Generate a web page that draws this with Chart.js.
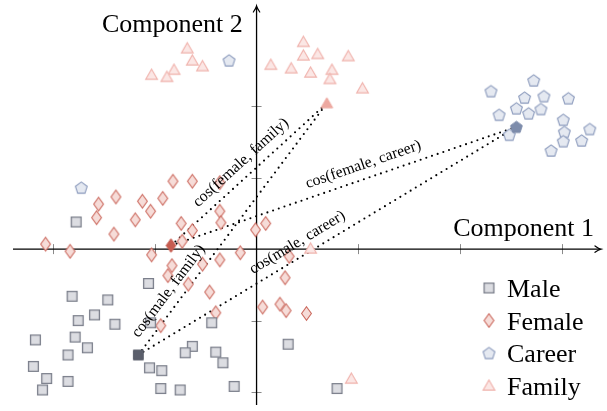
<!DOCTYPE html>
<html><head><meta charset="utf-8">
<script src="https://cdn.jsdelivr.net/npm/chart.js@4.4.0/dist/chart.umd.min.js"></script>
<style>html,body{margin:0;padding:0;background:#fff;}#wrap{width:607px;height:411px;}</style>
</head><body><div id="wrap"><canvas id="c" width="607" height="411"></canvas></div>
<script>
// ---- data (axis units: one tick = 1) ----
const seriesNames = ['Male', 'Female', 'Career', 'Family'];
const maleX = [-1.77,-1.06,-1.81,-1.46,-1.59,-1.75,-1.39,-1.04,-0.44,-2.17,-1.78,-1.66,-1.85,-0.63,-0.70,-0.40,-0.33,-2.19,-1.05,-0.93,-2.06,-1.85,-2.10,-0.94,-0.75,-0.22,0.31,0.79];
const maleY = [0.38,-0.48,-0.66,-0.71,-0.92,-1.00,-1.05,-1.03,-1.03,-1.27,-1.23,-1.38,-1.48,-1.36,-1.45,-1.44,-1.59,-1.64,-1.66,-1.70,-1.81,-1.85,-1.97,-1.95,-1.97,-1.92,-1.33,-1.95];
const femaleX = [-0.82,-0.63,-0.36,-1.38,-1.55,-1.12,-0.92,-1.04,-1.57,-1.19,-0.74,-1.40,-0.63,-0.73,-2.07,-1.83,-1.03,-0.36,-0.35,0.09,-0.01,-0.16,-0.36,-0.53,0.32,0.28,-0.83,-0.87,-0.67,-0.46,-0.40,0.06,0.23,0.29,0.49,-0.94];
const femaleY = [0.95,0.95,0.93,0.73,0.63,0.67,0.71,0.53,0.44,0.41,0.36,0.21,0.26,0.11,0.07,-0.03,-0.08,0.53,0.37,0.36,0.27,-0.05,-0.15,-0.21,-0.10,-0.40,-0.23,-0.37,-0.49,-0.60,-0.89,-0.81,-0.77,-0.86,-0.90,-1.07];
const careerX = [2.72,2.30,2.63,2.82,3.06,2.55,2.67,2.79,2.38,3.01,3.02,3.27,3.01,3.19,2.89,2.48,-0.27,-1.72];
const careerY = [2.36,2.21,2.12,2.14,2.11,1.97,1.90,1.96,1.88,1.81,1.64,1.68,1.51,1.52,1.38,1.60,2.64,0.86];
const familyX = [-0.68,-0.63,-0.53,-0.81,-1.03,-0.88,0.14,0.34,0.46,0.46,0.60,0.90,0.53,0.74,0.72,1.04,0.53,0.93];
const familyY = [2.81,2.64,2.56,2.51,2.44,2.41,2.58,2.53,2.90,2.71,2.73,2.70,2.47,2.51,2.38,2.25,0.01,-1.81];
// centroids in order Male, Female, Career, Family
const centroidX = [-1.16,-0.84,2.55,0.69];
const centroidY = [-1.48,0.05,1.71,2.04];
const simLabels = ['cos(female, family)','cos(female, career)','cos(male, family)','cos(male, career)'];
const simFrom = [1,1,0,0];
const simTo = [3,2,3,2];
const xTicks = [-2,-1,1,2,3];
const yTicks = [-2,-1,1,2];
const axisTitles = ['Component 1','Component 2'];

// ---- marker images ----
function makeMarker(shape, fill, stroke, lw) {
  const S = 17, m = S / 2;
  const c = document.createElement('canvas'); c.width = S; c.height = S;
  const g = c.getContext('2d');
  g.beginPath();
  if (shape === 'square') { g.rect(m - 4.9, m - 4.9, 9.8, 9.8); }
  else if (shape === 'diamond') { g.moveTo(m, m - 6.8); g.lineTo(m + 4.9, m); g.lineTo(m, m + 6.8); g.lineTo(m - 4.9, m); g.closePath(); }
  else if (shape === 'pentagon') { const r = 6.2; for (let i = 0; i < 5; i++) { const a = (-90 + 72 * i) * Math.PI / 180; const px = m + r * Math.cos(a), py = m + 0.6 + r * Math.sin(a); i ? g.lineTo(px, py) : g.moveTo(px, py); } g.closePath(); }
  else if (shape === 'triangle') { const r = 6.8; for (let i = 0; i < 3; i++) { const a = (-90 + 120 * i) * Math.PI / 180; const px = m + r * Math.cos(a), py = m + 1.2 + r * Math.sin(a); i ? g.lineTo(px, py) : g.moveTo(px, py); } g.closePath(); }
  g.fillStyle = fill; g.fill();
  if (stroke) { g.lineWidth = lw; g.strokeStyle = stroke; g.lineJoin = 'miter'; g.stroke(); }
  return c;
}
const markers = [
  makeMarker('square', '#dcdde2', '#7b7f8b', 1.3),
  makeMarker('diamond', '#f6dcd8', '#cc6a5f', 1.1),
  makeMarker('pentagon', '#e5e9f1', '#8c9bbd', 1.1),
  makeMarker('triangle', '#fbe7e5', '#f0b2ac', 1.1)
];
const centroidMarkers = [
  makeMarker('square', '#5b5f6c', '#5b5f6c', 1),
  makeMarker('diamond', '#c65c50', '#c65c50', 1),
  makeMarker('pentagon', '#7d8cab', '#7d8cab', 1),
  makeMarker('triangle', '#eda9a1', '#eda9a1', 1)
];

const xs = [maleX, femaleX, careerX, familyX];
const ys = [maleY, femaleY, careerY, familyY];
const datasets = [];
for (let s = 0; s < 4; s++) {
  datasets.push({
    label: seriesNames[s],
    data: xs[s].map((v, i) => ({ x: v, y: ys[s][i] })),
    pointStyle: markers[s], pointRadius: 5, pointHoverRadius: 5, order: 2
  });
}
for (let k = 0; k < simLabels.length; k++) {
  datasets.push({
    label: simLabels[k],
    data: [{ x: centroidX[simFrom[k]], y: centroidY[simFrom[k]] }, { x: centroidX[simTo[k]], y: centroidY[simTo[k]] }],
    showLine: true, borderColor: '#000', borderWidth: 2.1, borderDash: [0, 6], borderCapStyle: 'round',
    pointRadius: 0, pointHoverRadius: 0, order: 5
  });
}
datasets.push({
  label: 'centroids',
  data: centroidX.map((v, i) => ({ x: v, y: centroidY[i] })),
  pointStyle: (ctx) => centroidMarkers[ctx.dataIndex], pointRadius: 5, order: 0
});

const SERIF = '"Liberation Serif", "DejaVu Serif", serif';

const axesPlugin = {
  id: 'axesPlugin',
  beforeDatasetsDraw(chart) {
    const { ctx, scales: { x, y }, chartArea: a } = chart;
    const ox = x.getPixelForValue(0), oy = y.getPixelForValue(0);
    ctx.save();
    ctx.strokeStyle = '#8a8a8a'; ctx.lineWidth = 1;
    xTicks.forEach(t => { const px = Math.round(x.getPixelForValue(t)) + 0.5; ctx.beginPath(); ctx.moveTo(px, oy - 5); ctx.lineTo(px, oy + 5); ctx.stroke(); });
    yTicks.forEach(t => { const py = Math.round(y.getPixelForValue(t)) + 0.5; ctx.beginPath(); ctx.moveTo(ox - 5, py); ctx.lineTo(ox + 5, py); ctx.stroke(); });
    ctx.strokeStyle = '#000'; ctx.lineWidth = 1.3;
    ctx.beginPath(); ctx.moveTo(a.left, oy); ctx.lineTo(a.right - 1, oy); ctx.stroke();
    ctx.beginPath(); ctx.moveTo(ox, a.bottom); ctx.lineTo(ox, a.top + 1); ctx.stroke();
    ctx.lineWidth = 1.2; ctx.lineCap = 'round';
    ctx.beginPath(); ctx.moveTo(a.right - 6, oy - 3.2); ctx.quadraticCurveTo(a.right - 2.5, oy - 0.6, a.right, oy); ctx.quadraticCurveTo(a.right - 2.5, oy + 0.6, a.right - 6, oy + 3.2); ctx.stroke();
    ctx.beginPath(); ctx.moveTo(ox - 3.2, a.top + 6); ctx.quadraticCurveTo(ox - 0.6, a.top + 2.5, ox, a.top); ctx.quadraticCurveTo(ox + 0.6, a.top + 2.5, ox + 3.2, a.top + 6); ctx.stroke();
    ctx.restore();
  },
  afterDatasetsDraw(chart) {
    const { ctx, scales: { x, y } } = chart;
    ctx.save();
    ctx.fillStyle = '#000';
    ctx.font = '26px ' + SERIF;
    ctx.textBaseline = 'alphabetic';
    ctx.textAlign = 'right'; ctx.fillText(axisTitles[0], 594, 236);
    ctx.textAlign = 'left'; ctx.fillText(axisTitles[1], 102, 32);
    const tPos = [0.51, 0.57, 0.22, 0.44];
    ctx.font = '15.8px ' + SERIF; ctx.textAlign = 'center'; ctx.textBaseline = 'middle';
    for (let k = 0; k < simLabels.length; k++) {
      const x1 = x.getPixelForValue(centroidX[simFrom[k]]), y1 = y.getPixelForValue(centroidY[simFrom[k]]);
      const x2 = x.getPixelForValue(centroidX[simTo[k]]), y2 = y.getPixelForValue(centroidY[simTo[k]]);
      const ang = Math.atan2(y2 - y1, x2 - x1);
      const L = Math.hypot(x2 - x1, y2 - y1);
      const ux = (x2 - x1) / L, uy = (y2 - y1) / L;
      const nx = uy, ny = -ux;
      const off = 14;
      const cx = x1 + (x2 - x1) * tPos[k] + nx * off, cy = y1 + (y2 - y1) * tPos[k] + ny * off;
      ctx.save(); ctx.translate(cx, cy); ctx.rotate(ang); ctx.fillText(simLabels[k], 0, 0); ctx.restore();
    }
    ctx.font = '26px ' + SERIF; ctx.textAlign = 'left'; ctx.textBaseline = 'alphabetic';
    const base = [297, 329.5, 362, 394.5];
    for (let s = 0; s < 4; s++) {
      const m = markers[s];
      ctx.drawImage(m, 489 - m.width / 2, base[s] - 9 - m.height / 2);
      ctx.fillText(seriesNames[s], 507, base[s]);
    }
    ctx.restore();
  }
};

new Chart(document.getElementById('c'), {
  type: 'scatter',
  data: { datasets },
  options: {
    responsive: false, animation: false, devicePixelRatio: 1,
    layout: { padding: { left: 13, right: 3, top: 3, bottom: 1 } },
    scales: {
      x: { type: 'linear', min: -2.39, max: 3.38, display: false },
      y: { type: 'linear', min: -2.18, max: 3.40, display: false }
    },
    plugins: { legend: { display: false }, tooltip: { enabled: false } },
    events: []
  },
  plugins: [axesPlugin]
});
</script>
</body></html>
